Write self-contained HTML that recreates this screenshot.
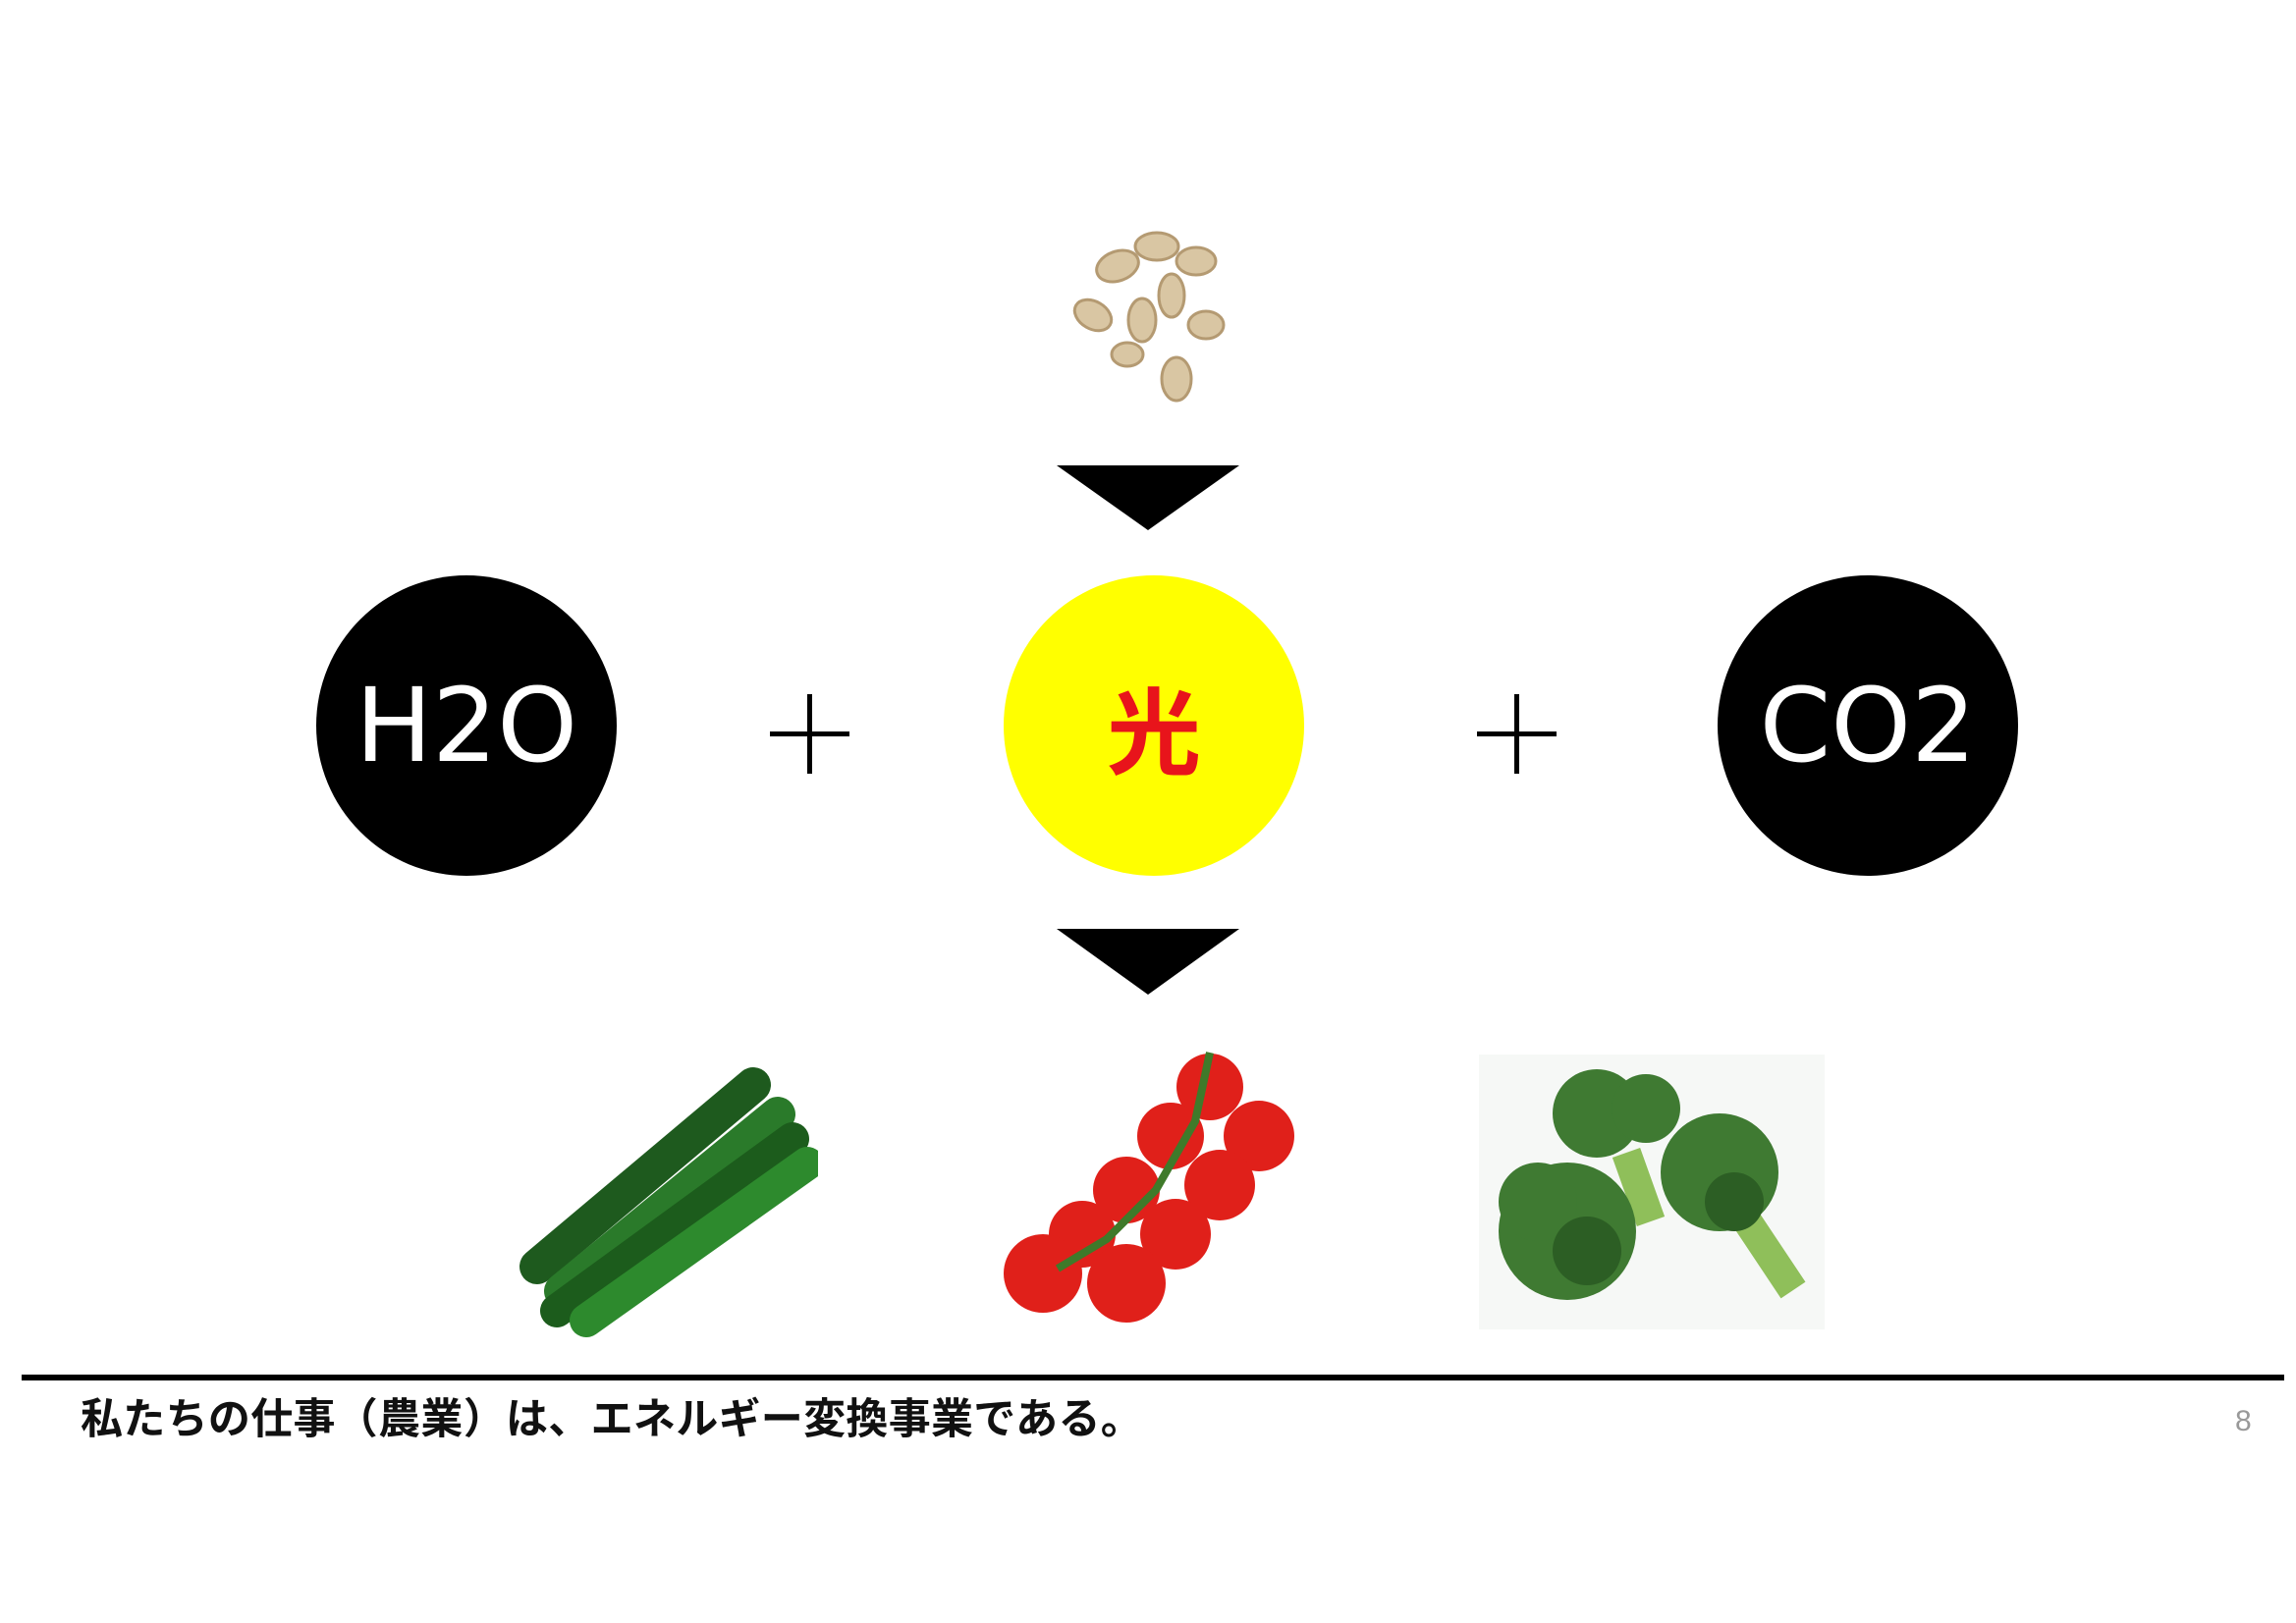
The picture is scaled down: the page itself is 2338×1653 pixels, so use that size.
<!DOCTYPE html>
<html><head><meta charset="utf-8"><style>
html,body{margin:0;padding:0;background:#fff;}
body{width:2338px;height:1653px;position:relative;overflow:hidden;font-family:"Liberation Sans","Noto Sans CJK JP",sans-serif;}
#wrap{position:absolute;left:0;top:0;width:2338px;height:1653px;}
.abs{position:absolute;}
.circ{position:absolute;width:306px;height:306px;border-radius:50%;display:flex;align-items:center;justify-content:center;}
</style></head><body><div id="wrap">
<svg class="abs" style="left:1068px;top:226px" width="200" height="190" viewBox="0 0 200 190">
 <g fill="#d9c6a3" stroke="#b49a72" stroke-width="3">
  <ellipse cx="110" cy="25" rx="22" ry="14"/><ellipse cx="70" cy="45" rx="22" ry="15" transform="rotate(-20 70 45)"/>
  <ellipse cx="150" cy="40" rx="20" ry="14"/><ellipse cx="125" cy="75" rx="13" ry="22"/>
  <ellipse cx="45" cy="95" rx="20" ry="14" transform="rotate(30 45 95)"/><ellipse cx="95" cy="100" rx="14" ry="22"/>
  <ellipse cx="160" cy="105" rx="18" ry="14"/><ellipse cx="80" cy="135" rx="16" ry="12"/><ellipse cx="130" cy="160" rx="15" ry="22"/>
 </g></svg>
<svg class="abs" style="left:1076px;top:474px" width="186" height="66"><polygon points="0,0 186,0 93,66" fill="#000"/></svg>
<div class="circ" style="left:322px;top:586px;background:#000;color:#fff;font-size:104px;font-family:'DejaVu Sans',sans-serif">H2O</div>
<div class="abs" style="left:784px;top:745px;width:81px;height:5px;background:#000"></div>
<div class="abs" style="left:822px;top:707px;width:5px;height:81px;background:#000"></div>
<div class="circ" style="left:1022px;top:586px;background:#ffff00;color:#e8141b;font-size:96px;font-weight:bold;font-family:'Noto Sans CJK JP',sans-serif">光</div>
<div class="abs" style="left:1504px;top:745px;width:81px;height:5px;background:#000"></div>
<div class="abs" style="left:1542px;top:707px;width:5px;height:81px;background:#000"></div>
<div class="circ" style="left:1749px;top:586px;background:#000;color:#fff;font-size:104px;font-family:'DejaVu Sans',sans-serif">CO2</div>
<svg class="abs" style="left:1076px;top:946px" width="186" height="67"><polygon points="0,0 186,0 93,67" fill="#000"/></svg>
<svg class="abs" style="left:517px;top:1080px" width="316" height="282" viewBox="0 0 316 282">
 <g stroke-linecap="round" fill="none">
  <line x1="30" y1="210" x2="250" y2="25" stroke="#1e5a1e" stroke-width="36"/>
  <line x1="55" y1="235" x2="275" y2="55" stroke="#2a7a2a" stroke-width="36"/>
  <line x1="50" y1="255" x2="290" y2="80" stroke="#1c5c1c" stroke-width="34"/>
  <line x1="80" y1="265" x2="305" y2="105" stroke="#2d8a2d" stroke-width="34"/>
 </g></svg>
<svg class="abs" style="left:1017px;top:1062px" width="310" height="292" viewBox="0 0 310 292">
 <g fill="#e0201a">
  <circle cx="215" cy="45" r="34"/><circle cx="265" cy="95" r="36"/><circle cx="175" cy="95" r="34"/>
  <circle cx="225" cy="145" r="36"/><circle cx="130" cy="150" r="34"/><circle cx="180" cy="195" r="36"/>
  <circle cx="85" cy="195" r="34"/><circle cx="130" cy="245" r="40"/><circle cx="45" cy="235" r="40"/>
 </g>
 <path d="M215,10 L200,80 L160,150 L110,200 L60,230" stroke="#3f7a2a" stroke-width="8" fill="none"/></svg>
<svg class="abs" style="left:1506px;top:1074px" width="352" height="280" viewBox="0 0 352 280">
 <rect width="352" height="280" fill="#f6f8f6"/>
 <path d="M150,100 L175,170 M260,150 L320,240" stroke="#8fbf5a" stroke-width="30"/>
 <g fill="#3f7a32"><circle cx="120" cy="60" r="45"/><circle cx="170" cy="55" r="35"/><circle cx="90" cy="180" r="70"/><circle cx="245" cy="120" r="60"/><circle cx="60" cy="150" r="40"/></g>
 <g fill="#2c5e24"><circle cx="110" cy="200" r="35"/><circle cx="260" cy="150" r="30"/></g></svg>
<div class="abs" style="left:22px;top:1400px;width:2304px;height:6px;background:#000"></div>
<div class="abs" style="left:82px;top:1418px;font-size:43px;line-height:56px;font-weight:bold;color:#111;white-space:nowrap;letter-spacing:0.3px">私たちの仕事（農業）は、エネルギー変換事業である。</div>
<div class="abs" style="left:2276px;top:1428px;font-size:30px;line-height:40px;color:#999">8</div>
</div></body></html>
